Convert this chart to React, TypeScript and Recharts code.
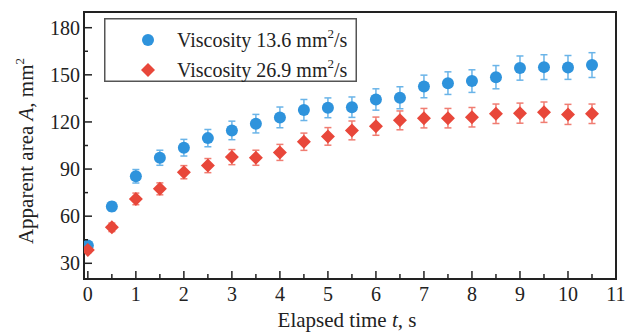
import React from 'react';
import { ScatterChart, Scatter, XAxis, YAxis, ErrorBar, ReferenceArea, Legend } from 'recharts';

const times = [0, 0.5, 1, 1.5, 2, 2.5, 3, 3.5, 4, 4.5, 5, 5.5, 6, 6.5, 7, 7.5, 8, 8.5, 9, 9.5, 10, 10.5];
const blueValues = [41.3, 66.1, 85.4, 97.2, 103.6, 109.7, 114.6, 118.9, 122.9, 127.6, 129.0, 129.4, 134.3, 135.4, 142.6, 144.7, 146.0, 148.5, 154.3, 154.9, 154.7, 156.2];
const blueErr = [2.0, 2.9, 4.3, 4.8, 5.3, 5.5, 5.9, 5.9, 6.6, 6.7, 6.3, 6.5, 6.8, 7.0, 7.2, 7.2, 7.2, 7.4, 7.7, 7.9, 7.6, 7.9];
const redValues = [38.5, 52.9, 71.0, 77.4, 88.0, 92.2, 97.6, 97.2, 100.6, 107.4, 110.8, 114.6, 117.3, 121.0, 122.4, 122.4, 123.0, 125.2, 125.6, 126.2, 124.8, 125.2];
const redErr = [1.9, 2.7, 3.7, 3.8, 4.2, 4.5, 4.8, 4.8, 5.1, 5.5, 5.6, 6.0, 5.8, 6.0, 6.2, 6.2, 6.2, 6.2, 6.4, 6.5, 6.4, 6.2];
const xTicks = [0, 0.5, 1, 1.5, 2, 2.5, 3, 3.5, 4, 4.5, 5, 5.5, 6, 6.5, 7, 7.5, 8, 8.5, 9, 9.5, 10, 10.5, 11];
const yTicks = [30, 45, 60, 75, 90, 105, 120, 135, 150, 165, 180];
const seriesNames = ['Viscosity 13.6 mm', 'Viscosity 26.9 mm'];

const blueData = times.map((t, i) => ({ t, v: blueValues[i], err: blueErr[i] }));
const redData = times.map((t, i) => ({ t, v: redValues[i], err: redErr[i] }));

const FONT = '"Liberation Serif", "Times New Roman", serif';
const INK = '#222';
const BLUE = '#2e93dc';
const BLUE_ERR = '#6ab4e8';
const RED = '#e8473a';
const RED_ERR = '#f07d72';

const XTick = (props: any) => {
  const { x, y, payload } = props;
  const v = payload.value;
  const major = Number.isInteger(v);
  return (
    <g>
      <line x1={x} x2={x} y1={y} y2={y - (major ? 8 : 5)} stroke={INK} strokeWidth={1.5} />
      {major && (
        <text x={x} y={y + 22} textAnchor="middle" fontFamily={FONT} fontSize={20} fill={INK}>
          {v}
        </text>
      )}
    </g>
  );
};

const YTick = (props: any) => {
  const { x, y, payload } = props;
  const v = payload.value;
  const major = v % 30 === 0;
  return (
    <g>
      <line x1={x} x2={x + (major ? 8 : 4)} y1={y} y2={y} stroke={INK} strokeWidth={1.5} />
      {major && (
        <text x={x - 4} y={y} dy="0.35em" textAnchor="end" fontFamily={FONT} fontSize={20} fill={INK}>
          {v}
        </text>
      )}
    </g>
  );
};

const Circle = (props: any) => {
  const { cx, cy } = props;
  if (cx == null || cy == null) return null;
  return <circle cx={cx} cy={cy} r={6} fill={BLUE} />;
};

const Diamond = (props: any) => {
  const { cx, cy } = props;
  if (cx == null || cy == null) return null;
  const h = 7;
  return <path d={`M${cx},${cy - h}L${cx + h},${cy}L${cx},${cy + h}L${cx - h},${cy}Z`} fill={RED} />;
};

const LegendBox = () => (
  <svg width={253} height={64} style={{ display: 'block' }}>
    <rect x={0.75} y={0.75} width={251.5} height={62.5} fill="#fff" stroke="#555" strokeWidth={1.5} />
    <circle cx={44} cy={22} r={6} fill={BLUE} />
    <path d="M44,45L51,52L44,59L37,52Z" fill={RED} />
    {seriesNames.map((name, i) => (
      <text key={name} x={73} y={28.7 + i * 30} fontFamily={FONT} fontSize={20} fill={INK}>
        {name}
        <tspan dy={-9} fontSize={13}>2</tspan>
        <tspan dy={9} fontSize={20}>/s</tspan>
      </text>
    ))}
  </svg>
);

const XTitle = () => (
  <text x={347} y={327} textAnchor="middle" fontFamily={FONT} fontSize={21} fill={INK}>
    {'Elapsed time '}
    <tspan fontStyle="italic">t</tspan>
    {', s'}
  </text>
);

const YTitle = () => (
  <text transform="translate(33,151) rotate(-90)" x={0} y={0} textAnchor="middle" fontFamily={FONT} fontSize={21} fill={INK}>
    {'Apparent area '}
    <tspan fontStyle="italic">A</tspan>
    {', mm'}
    <tspan dy={-9} fontSize={13}>2</tspan>
  </text>
);

export default function App() {
  return (
    <div style={{ position: 'absolute', left: 0, top: 0, width: 625, height: 333, background: '#fff' }}>
      <ScatterChart width={625} height={333} margin={{ top: 12, right: 9, left: 0, bottom: 0 }}>
        <XAxis
          type="number"
          dataKey="t"
          domain={[-0.08, 11]}
          ticks={xTicks}
          interval={0}
          allowDataOverflow
          height={54}
          tickSize={0}
          tickMargin={0}
          tickLine={false}
          tick={XTick}
          axisLine={{ stroke: INK, strokeWidth: 2 }}
          label={{ content: XTitle }}
        />
        <YAxis
          type="number"
          dataKey="v"
          domain={[20, 190]}
          ticks={yTicks}
          interval={0}
          allowDataOverflow
          width={84}
          tickSize={0}
          tickMargin={0}
          tickLine={false}
          tick={YTick}
          axisLine={{ stroke: INK, strokeWidth: 2 }}
          label={{ content: YTitle }}
        />
        <ReferenceArea x1={-0.08} x2={11} y1={20} y2={190} fill="none" stroke={INK} strokeWidth={2} ifOverflow="visible" />
        <Scatter data={blueData} dataKey="v" shape={Circle} isAnimationActive={false}>
          <ErrorBar dataKey="err" direction="y" width={3.5} stroke={BLUE_ERR} strokeWidth={1.5} isAnimationActive={false} />
        </Scatter>
        <Scatter data={redData} dataKey="v" shape={Diamond} isAnimationActive={false}>
          <ErrorBar dataKey="err" direction="y" width={3.5} stroke={RED_ERR} strokeWidth={1.5} isAnimationActive={false} />
        </Scatter>
        <Legend
          layout="vertical"
          align="center"
          verticalAlign="middle"
          content={LegendBox}
          wrapperStyle={{ position: 'absolute', left: 104, top: 18, width: 253, height: 64 }}
        />
      </ScatterChart>
    </div>
  );
}
